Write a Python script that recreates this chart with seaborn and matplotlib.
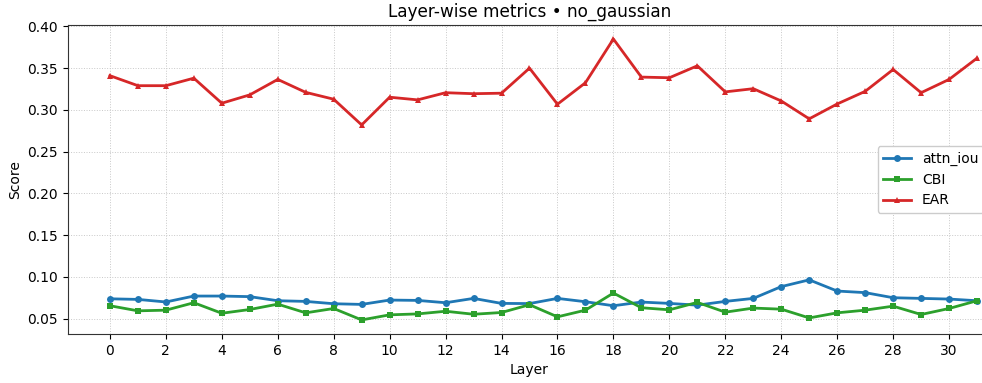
import matplotlib
matplotlib.use("Agg")
import matplotlib.pyplot as plt
import seaborn as sns
import pandas as pd

layers = list(range(32))

attn_iou = [0.0737, 0.0730, 0.0699, 0.0770, 0.0770, 0.0763, 0.0714, 0.0706,
            0.0678, 0.0670, 0.0722, 0.0718, 0.0690, 0.0742, 0.0682, 0.0680,
            0.0742, 0.0702, 0.0654, 0.0698, 0.0682, 0.0661, 0.0706, 0.0742,
            0.0883, 0.0964, 0.0830, 0.0811, 0.0750, 0.0742, 0.0734, 0.0714]

cbi = [0.0654, 0.0593, 0.0601, 0.0690, 0.0564, 0.0609, 0.0673, 0.0569,
       0.0621, 0.0484, 0.0545, 0.0556, 0.0588, 0.0552, 0.0573, 0.0666,
       0.0521, 0.0601, 0.0806, 0.0630, 0.0605, 0.0694, 0.0577, 0.0626,
       0.0613, 0.0508, 0.0569, 0.0601, 0.0649, 0.0549, 0.0621, 0.0714]

ear = [0.3410, 0.3290, 0.3290, 0.3380, 0.3080, 0.3180, 0.3365, 0.3210,
       0.3128, 0.2820, 0.3152, 0.3120, 0.3206, 0.3194, 0.3200, 0.3500,
       0.3068, 0.3325, 0.3849, 0.3393, 0.3385, 0.3528, 0.3216, 0.3254,
       0.3107, 0.2893, 0.3071, 0.3222, 0.3484, 0.3206, 0.3365, 0.3620]

metric_names = ["attn_iou", "CBI", "EAR"]
metric_colors = ["#1f77b4", "#2ca02c", "#d62728"]
metric_markers = ["o", "s", "^"]

df = pd.DataFrame({"Layer": layers, "attn_iou": attn_iou, "CBI": cbi, "EAR": ear})
long_df = df.melt(id_vars="Layer", var_name="metric", value_name="Score")

fig = plt.figure(figsize=(9.82, 3.83), dpi=100)
# the axes runs slightly past the right edge of the canvas
ax = fig.add_axes([0.0692, 0.128, 0.940, 0.8068])

for name, color, marker in zip(metric_names, metric_colors, metric_markers):
    sub = long_df[long_df["metric"] == name]
    sns.lineplot(data=sub, x="Layer", y="Score", ax=ax, color=color,
                 marker=marker, markersize=5, markeredgewidth=0,
                 linewidth=2, label=name)

ax.set_xlim(-1.5, 31.5)
ax.set_xticks(range(0, 31, 2))
ax.grid(True, linestyle=":", linewidth=0.7, color="#c8c8c8")
ax.set_axisbelow(True)
ax.tick_params(labelsize=10)
ax.set_xlabel("Layer", fontsize=10)
ax.set_ylabel("Score", fontsize=10)
ax.set_title("Layer-wise metrics \u2022 no_gaussian", fontsize=12.2)
for side in ["left", "top", "bottom"]:
    ax.spines[side].set_color("#333333")

ax.legend(loc="center right", fontsize=10, framealpha=1.0)

fig.savefig("out.png", dpi=100)
